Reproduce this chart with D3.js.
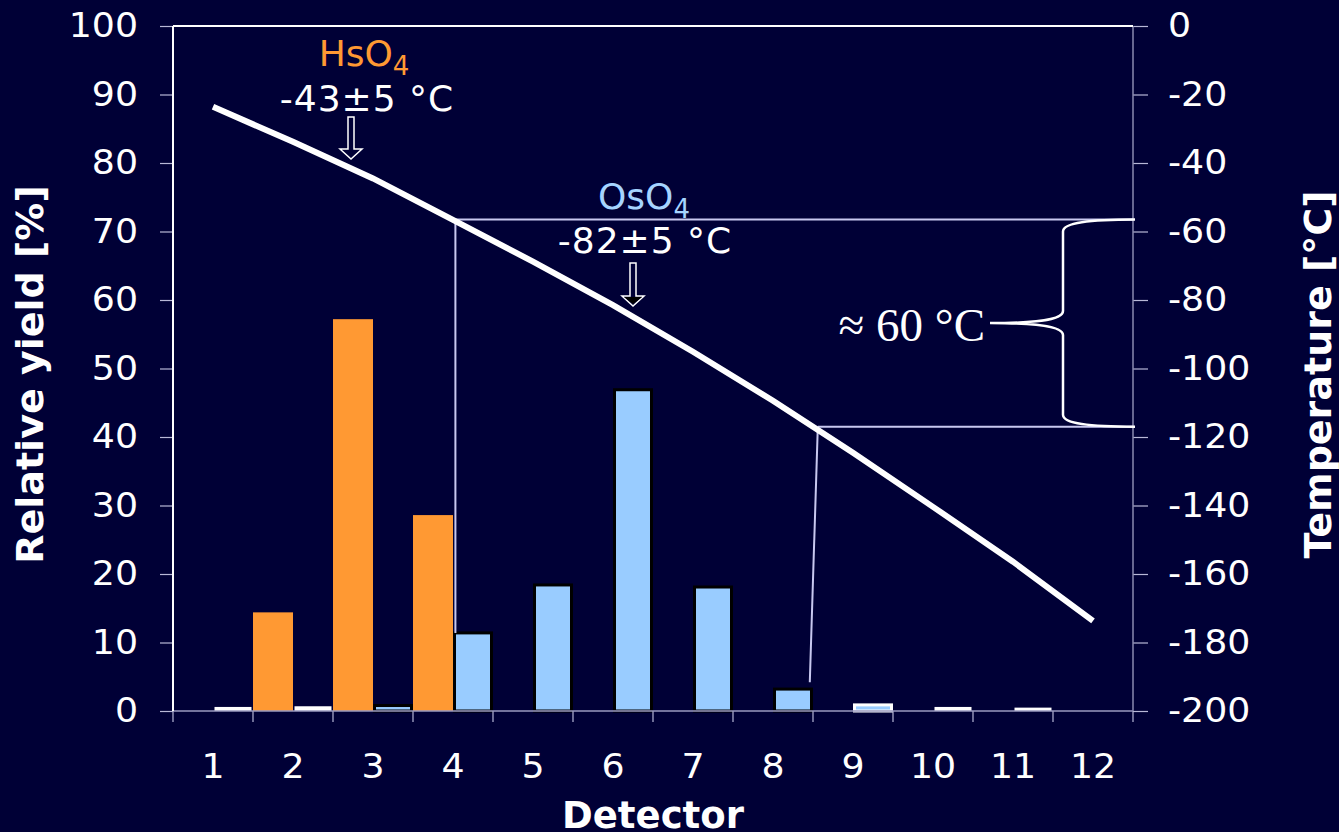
<!DOCTYPE html>
<html>
<head>
<meta charset="utf-8">
<script src="https://cdn.jsdelivr.net/npm/d3@7"></script>
<style>
  html, body { margin: 0; padding: 0; background: #000036; }
  svg { display: block; }
  text { font-family: "DejaVu Sans", Verdana, sans-serif; fill: #fff; }
  .ax-left text  { transform-box: fill-box; transform-origin: 100% 50%; transform: scaleX(1.1); }
  .ax-right text { transform-box: fill-box; transform-origin: 0% 50%; transform: scaleX(1.1); }
  .ax-bottom text { transform-box: fill-box; transform-origin: 50% 50%; transform: scaleX(1.1); }
</style>
</head>
<body>
<svg id="chart" width="1339" height="832"></svg>
<script>
// ---- data ----
const detectors = [1, 2, 3, 4, 5, 6, 7, 8, 9, 10, 11, 12];
const hsYield  = [0, 14.4, 57.2, 28.6, 0, 0, 0, 0, 0, 0, 0, 0];
const osYield  = [0.3, 0.4, 0.8, 11.4, 18.4, 46.9, 18.1, 3.2, 0.6, 0.3, 0.2, 0];
const temperature = [-23.6, -33.8, -44.5, -56.6, -68.8, -81.5, -95.1, -109.4, -124.6, -140.4, -156.4, -173.7];
const yieldTicks = d3.range(0, 101, 10);
const tempTicks  = d3.range(-200, 1, 20);
// where the reference lines leave the temperature curve (detector position, temperature, yield at foot)
const refDetTop  = [4.03, 8.56];
const refDetFoot = [4.03, 8.46];
const refTemps   = [-56.5, -117];
const refFootYield = [11.4, 4.2];

const W = 1339, H = 832;
const plotL = 173, plotR = 1133, plotT = 26, plotB = 711;

const svg = d3.select("#chart");

svg.append("rect").attr("width", W).attr("height", H).attr("fill", "#000036");

const x = d3.scaleBand().domain(detectors).range([plotL, plotR]).padding(0);
const xSub = d3.scaleBand().domain(["Hs", "Os"]).range([0, x.bandwidth()]);
const xLin = d3.scaleLinear().domain([1, 12]).range([x(1) + x.bandwidth() / 2, x(12) + x.bandwidth() / 2]);
const y = d3.scaleLinear().domain([0, 100]).range([plotB, plotT]);
const t = d3.scaleLinear().domain([-200, 0]).range([plotB, plotT]);

// bars
svg.append("g").selectAll("rect")
  .data(detectors.map((d, i) => ({ d, v: hsYield[i] })).filter(e => e.v > 0))
  .join("rect")
    .attr("x", e => x(e.d) + xSub("Hs"))
    .attr("y", e => y(e.v))
    .attr("width", xSub.bandwidth())
    .attr("height", e => y(0) - y(e.v))
    .attr("fill", "#ff9933");

svg.append("g").selectAll("rect")
  .data(detectors.map((d, i) => ({ d, v: osYield[i] })).filter(e => e.v > 0))
  .join("rect")
    .attr("x", e => x(e.d) + xSub("Os") + 1.5)
    .attr("y", e => y(e.v) - (e.v < 0.7 ? 2 : 0))
    .attr("width", xSub.bandwidth() - 3)
    .attr("height", e => y(0) - y(e.v) + (e.v < 0.7 ? 2 : 0))
    .attr("fill", e => e.v < 0.5 ? "#ffffff" : "#99ccff")
    .attr("stroke", e => e.v < 0.5 ? "none" : (e.v < 0.7 ? "#ffffff" : "#000"))
    .attr("stroke-width", 3);

// axes
const gl = svg.append("g").attr("class", "ax-left").attr("transform", `translate(${plotL},0)`)
  .call(d3.axisLeft(y).tickValues(yieldTicks).tickSize(13).tickPadding(22));
const gr = svg.append("g").attr("class", "ax-right").attr("transform", `translate(${plotR},0)`)
  .call(d3.axisRight(t).tickValues(tempTicks).tickFormat(d => String(d)).tickSize(15).tickPadding(20));
const gb = svg.append("g").attr("class", "ax-bottom").attr("transform", `translate(0,${plotB})`)
  .call(d3.axisBottom(x).tickSize(0).tickPadding(44));

[gl, gr, gb].forEach(g => {
  g.selectAll("text").style("font-size", "33px").attr("fill", "#fff");
  g.selectAll(".tick line").attr("stroke", "#b8b8d8").attr("stroke-width", 1.2);
});
gl.select(".domain").remove();
gr.select(".domain").remove();
gb.select(".domain").remove();

// x tick marks at band edges
svg.append("g").selectAll("line")
  .data(detectors.map(d => x(d)).concat([plotR]))
  .join("line")
    .attr("x1", d => d).attr("x2", d => d)
    .attr("y1", plotB).attr("y2", plotB + 11)
    .attr("stroke", "#b8b8d8").attr("stroke-width", 1.2);

// frame lines
svg.append("line").attr("x1", plotL).attr("x2", plotR).attr("y1", plotB).attr("y2", plotB)
  .attr("stroke", "#9a9ac0").attr("stroke-width", 1.5);
svg.append("line").attr("x1", plotR).attr("x2", plotR).attr("y1", plotT).attr("y2", plotB)
  .attr("stroke", "#8a8ab0").attr("stroke-width", 1.5);
svg.append("line").attr("x1", plotL).attr("x2", plotR).attr("y1", plotT).attr("y2", plotT)
  .attr("stroke", "#fff").attr("stroke-width", 2);
svg.append("line").attr("x1", plotL).attr("x2", plotL).attr("y1", plotT).attr("y2", plotB)
  .attr("stroke", "#fff").attr("stroke-width", 2);

// reference lines from the curve
const refCol = "#c8c8f0";
refTemps.forEach((tv, i) => {
  svg.append("line")
    .attr("x1", xLin(refDetTop[i])).attr("x2", plotR)
    .attr("y1", t(tv)).attr("y2", t(tv))
    .attr("stroke", refCol).attr("stroke-width", 2);
  svg.append("line")
    .attr("x1", xLin(refDetTop[i])).attr("x2", xLin(refDetFoot[i]))
    .attr("y1", t(tv)).attr("y2", y(refFootYield[i]))
    .attr("stroke", refCol).attr("stroke-width", 2);
});

// temperature curve
svg.append("path")
  .datum(detectors.map((d, i) => [xLin(d), t(temperature[i])]))
  .attr("d", d3.line())
  .attr("fill", "none")
  .attr("stroke", "#fff")
  .attr("stroke-width", 6);

// brace
const yT = t(refTemps[0]), yB = t(refTemps[1]), yM = (yT + yB) / 2;
const bx = 1063, tipX = 990;
const br = d3.path();
br.moveTo(plotR + 2, yT);
br.bezierCurveTo(1090, yT, bx, yT + 3, bx, yT + 12);
br.lineTo(bx, yM - 12);
br.bezierCurveTo(bx, yM - 2, 1030, yM, tipX, yM);
br.bezierCurveTo(1030, yM, bx, yM + 2, bx, yM + 12);
br.lineTo(bx, yB - 12);
br.bezierCurveTo(bx, yB - 3, 1090, yB, plotR + 2, yB);
svg.append("path").attr("d", br.toString())
  .attr("fill", "none").attr("stroke", "#fff").attr("stroke-width", 2.5);

svg.append("text")
  .attr("x", 985).attr("y", 341)
  .attr("text-anchor", "end")
  .style("font-family", "'Liberation Serif', 'Times New Roman', serif")
  .style("font-size", "47px")
  .text("≈ 60 °C");

// annotations
function label(cx, yBase, name, color) {
  const tx = svg.append("text")
    .attr("x", cx).attr("y", yBase)
    .attr("text-anchor", "middle")
    .style("font-size", "36px")
    .style("fill", color);
  tx.append("tspan").text(name);
  tx.append("tspan").attr("dy", 9).style("font-size", "26px").text("4");
}
function tempLabel(cx, yBase, txt) {
  svg.append("text")
    .attr("x", cx).attr("y", yBase)
    .attr("text-anchor", "middle")
    .style("font-size", "36px")
    .style("letter-spacing", "1px")
    .text(txt);
}
function arrow(cx, y0, y1, headFill) {
  const hw = 3, aw = 11, ah = 10;
  const p = d3.path();
  p.moveTo(cx - hw, y0);
  p.lineTo(cx - hw, y1 - ah);
  p.lineTo(cx - aw, y1 - ah);
  p.lineTo(cx, y1);
  p.lineTo(cx + aw, y1 - ah);
  p.lineTo(cx + hw, y1 - ah);
  p.lineTo(cx + hw, y0);
  p.closePath();
  svg.append("path").attr("d", p.toString())
    .attr("fill", "#000036").attr("stroke", "#fff").attr("stroke-width", 1.5);
  if (headFill) {
    svg.append("path")
      .attr("d", `M${cx - aw + 2},${y1 - ah + 1}L${cx},${y1 - 2}L${cx + aw - 2},${y1 - ah + 1}Z`)
      .attr("fill", headFill);
  }
}

label(364, 66, "HsO", "#ff9933");
tempLabel(367, 111, "-43±5 °C");
arrow(351, 117, 159, null);

label(644, 209, "OsO", "#a6d4ff");
tempLabel(645, 253, "-82±5 °C");
arrow(633, 263, 306, "#000");

// axis titles
svg.append("text")
  .attr("transform", `translate(43,${(plotT + plotB) / 2 + 6}) rotate(-90)`)
  .attr("text-anchor", "middle")
  .style("font-weight", "bold")
  .style("font-size", "38px")
  .text("Relative yield [%]");

svg.append("text")
  .attr("transform", `translate(1331,${(plotT + plotB) / 2 + 6}) rotate(-90)`)
  .attr("text-anchor", "middle")
  .style("font-weight", "bold")
  .style("font-size", "38px")
  .text("Temperature [°C]");

svg.append("text")
  .attr("x", (plotL + plotR) / 2)
  .attr("y", 828)
  .attr("text-anchor", "middle")
  .style("font-weight", "bold")
  .style("font-size", "37px")
  .text("Detector");
</script>
</body>
</html>
